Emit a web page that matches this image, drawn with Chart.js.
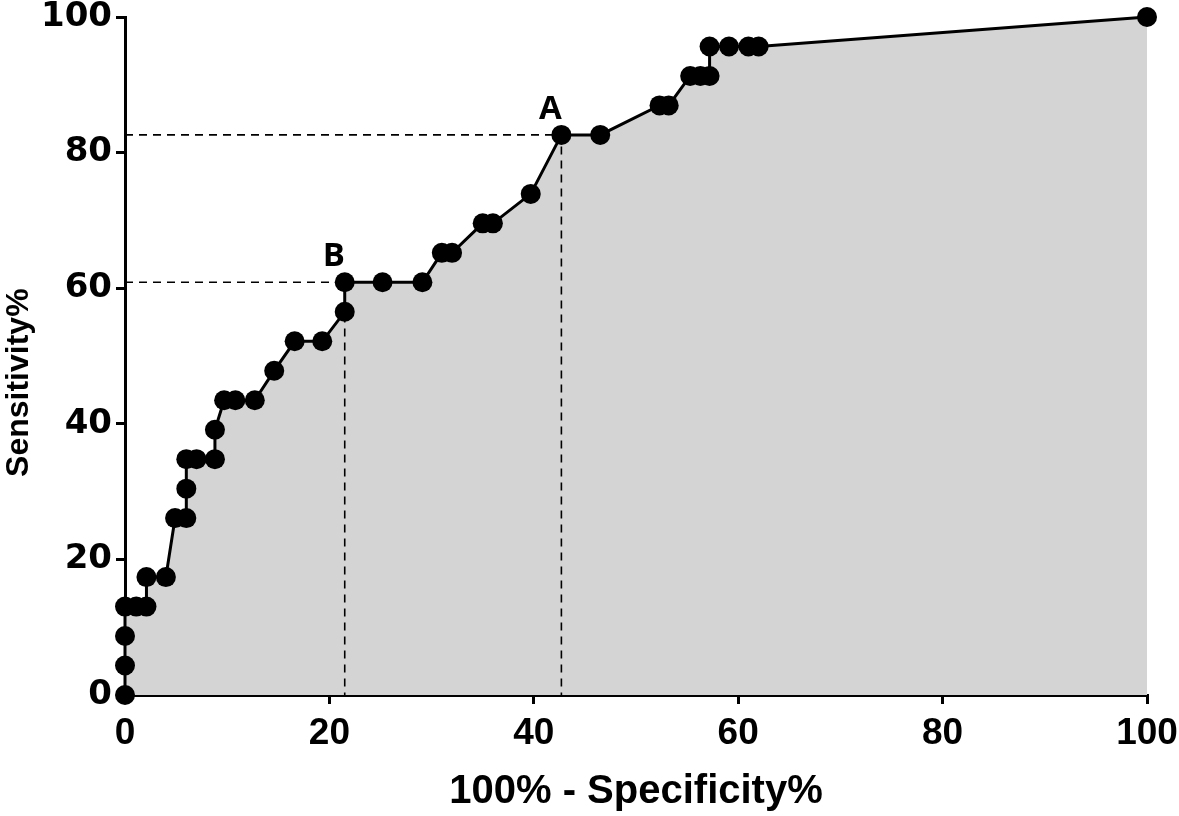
<!DOCTYPE html>
<html>
<head>
<meta charset="utf-8">
<script src="https://cdn.jsdelivr.net/npm/chart.js@4/dist/chart.umd.min.js"></script>
<style>
  body { margin: 0; background: #fff; }
  canvas { display: block; }
</style>
</head>
<body>
<canvas id="roc" width="1179" height="816"></canvas>
<script>
// 100% - Specificity% (x) and Sensitivity% (y)
const fpr = [0, 0, 0, 0, 1.1, 2.1, 2.1, 4.0, 4.9, 6.0, 6.0, 6.0, 7.0, 8.8, 8.8, 9.7, 10.8, 12.7, 14.6, 16.6, 19.3,
  21.5, 21.5, 25.2, 29.1, 31.0, 32.0, 35.0, 36.0, 39.7, 42.7, 46.5, 52.3, 53.2, 55.3, 56.3, 57.2, 57.2, 59.1, 61.0, 62.0, 100];
const sens = [0, 4.35, 8.70, 13.04, 13.04, 13.04, 17.39, 17.39, 26.09, 26.09, 30.43, 34.78, 34.78, 34.78, 39.13, 43.48,
  43.48, 43.48, 47.83, 52.17, 52.17, 56.52, 60.87, 60.87, 60.87, 65.22, 65.22, 69.57, 69.57, 73.91, 82.61, 82.61,
  86.96, 86.96, 91.30, 91.30, 91.30, 95.65, 95.65, 95.65, 95.65, 100];

// cut-off points A and B
const markerNames = ['A', 'B'];
const markerX = [42.7, 21.5];
const markerY = [82.61, 60.87];

const xTicks = [0, 20, 40, 60, 80, 100];
const yTicks = [0, 20, 40, 60, 80, 100];

const rocPoints = fpr.map((x, i) => ({ x: x, y: sens[i] }));

// dashed guide lines: from the y axis to the point, then down to the x axis
const guideSets = markerNames.map((n, i) => ({
  label: 'guide ' + n,
  data: [{ x: 0, y: markerY[i] }, { x: markerX[i], y: markerY[i] }, { x: markerX[i], y: 0 }],
  borderColor: '#000',
  borderWidth: 1.6,
  borderDash: [8, 6],
  pointRadius: 0,
  fill: false,
  tension: 0,
  order: 2
}));

const markerLabels = {
  id: 'markerLabels',
  afterDatasetsDraw(chart) {
    const ctx = chart.ctx;
    const xs = chart.scales.x, ys = chart.scales.y;
    ctx.save();
    ctx.fillStyle = '#000';
    ctx.font = 'bold 33px "Open Sans", sans-serif';
    ctx.textAlign = 'center';
    ctx.textBaseline = 'bottom';
    markerNames.forEach((n, i) => {
      ctx.fillText(n, xs.getPixelForValue(markerX[i]) - 11, ys.getPixelForValue(markerY[i]) - 9);
    });
    ctx.restore();
  }
};

new Chart(document.getElementById('roc'), {
  type: 'line',
  data: {
    datasets: [
      {
        label: 'ROC',
        data: rocPoints,
        borderColor: '#000',
        borderWidth: 3,
        backgroundColor: '#d4d4d4',
        pointBackgroundColor: '#000',
        pointBorderColor: '#000',
        pointRadius: 10,
        pointBorderWidth: 0,
        fill: 'origin',
        tension: 0,
        clip: false,
        order: 3
      },
      ...guideSets
    ]
  },
  options: {
    responsive: false,
    animation: false,
    events: [],
    layout: { padding: { left: 0, top: 17, right: 32, bottom: 0 } },
    plugins: { legend: { display: false }, tooltip: { enabled: false } },
    scales: {
      x: {
        type: 'linear',
        min: 0,
        max: 100,
        afterBuildTicks: (s) => { s.ticks = xTicks.map(v => ({ value: v })); },
        afterFit: (s) => { s.height = 121; s.paddingLeft = 0; s.paddingRight = 0; },
        border: { color: '#000', width: 3 },
        grid: { drawOnChartArea: false, drawTicks: true, tickLength: 9, color: '#000', lineWidth: 3 },
        ticks: {
          color: '#000',
          padding: 8,
          maxRotation: 0,
          font: { family: '"Liberation Sans", sans-serif', weight: 'bold', size: 37 }
        },
        title: {
          display: true,
          text: '100% - Specificity%',
          color: '#000',
          padding: 0,
          font: { family: '"Liberation Sans", sans-serif', weight: 'bold', size: 40 }
        }
      },
      y: {
        min: 0,
        max: 100,
        afterBuildTicks: (s) => { s.ticks = yTicks.map(v => ({ value: v })); },
        afterFit: (s) => { s.width = 125; s.paddingTop = 0; s.paddingBottom = 0; },
        border: { color: '#000', width: 3 },
        grid: { drawOnChartArea: false, drawTicks: true, tickLength: 9, color: '#000', lineWidth: 3 },
        ticks: {
          color: '#000',
          padding: 4,
          font: { family: '"DejaVu Sans", sans-serif', weight: 'bold', size: 34 }
        },
        title: {
          display: true,
          // trailing spaces push the centred title a little lower, as in the figure
          text: 'Sensitivity%      ',
          color: '#000',
          padding: 0,
          font: { family: '"Liberation Sans", sans-serif', weight: 'bold', size: 32 }
        }
      }
    }
  },
  plugins: [markerLabels]
});
</script>
</body>
</html>
